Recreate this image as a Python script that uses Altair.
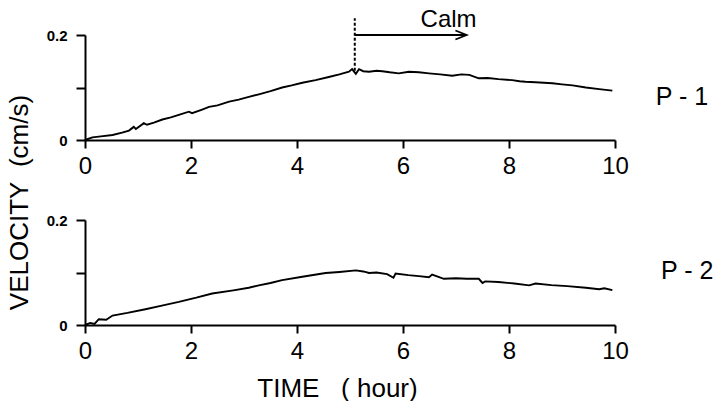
import altair as alt
import pandas as pd

# ---- data ----
hours_p1 = [0, 0.14, 0.3, 0.52, 0.7, 0.83, 0.92, 0.96, 1.11, 1.17, 1.3, 1.46, 1.62, 1.77,
            1.96, 2.02, 2.21, 2.34, 2.5, 2.72, 2.9, 3.09, 3.28, 3.5, 3.72, 3.9, 4.1, 4.35,
            4.6, 4.8, 4.98, 5.04, 5.11, 5.17, 5.25, 5.36, 5.5, 5.61, 5.75, 5.92, 6.11, 6.3,
            6.49, 6.7, 6.93, 7.1, 7.25, 7.43, 7.6, 7.8, 8.06, 8.2, 8.31, 8.5, 8.82, 9.0,
            9.2, 9.45, 9.7, 9.95]
vel_p1 = [0, 0.005, 0.007, 0.0095, 0.014, 0.018, 0.025, 0.021, 0.032, 0.029, 0.033, 0.039,
          0.043, 0.048, 0.054, 0.051, 0.058, 0.063, 0.066, 0.073, 0.077, 0.082, 0.087, 0.093,
          0.100, 0.104, 0.109, 0.114, 0.120, 0.125, 0.130, 0.135, 0.126, 0.135, 0.131, 0.130,
          0.132, 0.131, 0.129, 0.127, 0.130, 0.129, 0.127, 0.125, 0.1225, 0.125, 0.124,
          0.1175, 0.118, 0.116, 0.114, 0.112, 0.111, 0.110, 0.108, 0.106, 0.104, 0.100,
          0.097, 0.094]

hours_p2 = [0, 0.1, 0.18, 0.26, 0.4, 0.52, 0.8, 1.14, 1.45, 1.77, 2.1, 2.4, 2.8, 3.09, 3.28,
            3.5, 3.72, 4.1, 4.54, 4.8, 5.11, 5.25, 5.36, 5.5, 5.7, 5.82, 5.86, 6.1, 6.3, 6.49,
            6.55, 6.77, 7.0, 7.2, 7.43, 7.5, 7.55, 7.8, 8.1, 8.38, 8.5, 8.8, 9.1, 9.45, 9.7,
            9.8, 9.95]
vel_p2 = [0, 0.004, 0.002, 0.011, 0.010, 0.018, 0.023, 0.030, 0.037, 0.044, 0.052, 0.060,
          0.066, 0.071, 0.0755, 0.080, 0.0855, 0.092, 0.099, 0.101, 0.104, 0.102, 0.099,
          0.100, 0.097, 0.090, 0.098, 0.095, 0.093, 0.091, 0.096, 0.088, 0.089, 0.088, 0.088,
          0.080, 0.083, 0.082, 0.079, 0.0755, 0.079, 0.076, 0.074, 0.071, 0.068, 0.070, 0.0665]

x_ticks = [0, 2, 4, 6, 8, 10]
y_ticks = [0, 0.1, 0.2]

calm_start = 5.09
calm_end = 7.2
calm_arrow_v = 0.2
calm_line = [0.132, 0.232]
calm_label = ["Calm"]
calm_label_pos = [6.86, 0.229]
panel_labels = ["P - 1", "P - 2"]
panel_label_pos = [[10.77, 0.082], [10.87, 0.102]]

y_title = "VELOCITY\u00a0\u00a0(cm/s)"
x_title = "TIME\u00a0\u00a0\u00a0( hour)"

FONT = "Liberation Sans"
W, H = 530, 105


def x_enc(title):
    ax = alt.Axis(values=x_ticks, grid=False, domainColor="black", domainWidth=2,
                  tickColor="black", tickWidth=2, tickSize=8, labelFont=FONT,
                  labelFontSize=24, labelColor="black", labelPadding=6,
                  labelFlush=False, titleFont=FONT, titleFontSize=26,
                  titleFontWeight="normal", titleColor="black", titlePadding=12,
                  titleX=252)
    return alt.X("h:Q", title=title, axis=ax,
                 scale=alt.Scale(domain=[0, 10], nice=False, zero=False))


def y_enc(title):
    ax = alt.Axis(values=y_ticks, grid=False, domainColor="black", domainWidth=2,
                  tickColor="black", tickWidth=2, tickSize=9, labelFont=FONT,
                  labelFontSize=15, labelFontWeight="bold", labelColor="black",
                  labelPadding=9,
                  labelExpr="datum.value == 0.1 ? '' : format(datum.value, '~g')",
                  titleFont=FONT, titleFontSize=26, titleFontWeight="normal",
                  titleColor="black", titleAngle=270, titleX=-53, titleY=167)
    return alt.Y("v:Q", title=title, axis=ax,
                 scale=alt.Scale(domain=[0, 0.2], nice=False, zero=False))


df1 = pd.DataFrame({"h": hours_p1, "v": vel_p1})
df2 = pd.DataFrame({"h": hours_p2, "v": vel_p2})

line1 = alt.Chart(df1).mark_line(color="black", strokeWidth=1.9).encode(
    x=x_enc(None), y=y_enc(y_title))

dash_df = pd.DataFrame({"h": [calm_start], "v": [calm_line[0]], "v2": [calm_line[1]]})
dash = alt.Chart(dash_df).mark_rule(color="black", strokeWidth=2, strokeDash=[3, 2]).encode(
    x="h:Q", y="v:Q", y2="v2:Q")

arrow_df = pd.DataFrame({"h": [calm_start], "h2": [calm_end], "v": [calm_arrow_v]})
arrow = alt.Chart(arrow_df).mark_rule(color="black", strokeWidth=1.8).encode(
    x="h:Q", x2="h2:Q", y="v:Q")

head_df = pd.DataFrame({"h": [calm_end], "v": [calm_arrow_v]})
head = alt.Chart(head_df).mark_point(
    shape="M-1,-0.4L0,0L-1,0.4", filled=False, stroke="black", strokeWidth=1.8,
    size=500, opacity=1).encode(x="h:Q", y="v:Q")

calm_df = pd.DataFrame({"h": [calm_label_pos[0]], "v": [calm_label_pos[1]], "t": calm_label})
calm = alt.Chart(calm_df).mark_text(font=FONT, fontSize=24, color="black",
                                     align="center", baseline="middle").encode(
    x="h:Q", y="v:Q", text="t:N")

p1_df = pd.DataFrame({"h": [panel_label_pos[0][0]], "v": [panel_label_pos[0][1]],
                      "t": [panel_labels[0]]})
p1 = alt.Chart(p1_df).mark_text(font=FONT, fontSize=25, color="black",
                                 align="left", baseline="middle").encode(
    x="h:Q", y="v:Q", text="t:N")

top = alt.layer(line1, dash, arrow, head, calm, p1).properties(width=W, height=H)

line2 = alt.Chart(df2).mark_line(color="black", strokeWidth=1.9).encode(
    x=x_enc(x_title), y=y_enc(None))

p2_df = pd.DataFrame({"h": [panel_label_pos[1][0]], "v": [panel_label_pos[1][1]],
                      "t": [panel_labels[1]]})
p2 = alt.Chart(p2_df).mark_text(font=FONT, fontSize=25, color="black",
                                 align="left", baseline="middle").encode(
    x="h:Q", y="v:Q", text="t:N")

bottom = alt.layer(line2, p2).properties(width=W, height=H)

chart = alt.vconcat(top, bottom, spacing=80, bounds="flush").resolve_scale(
    x="independent", y="independent"
).properties(
    padding={"left": 6, "top": 7, "right": 0, "bottom": 0},
    background="white",
).configure_view(stroke=None)

chart.save("out.html", embed_options={"renderer": "svg", "actions": False})
